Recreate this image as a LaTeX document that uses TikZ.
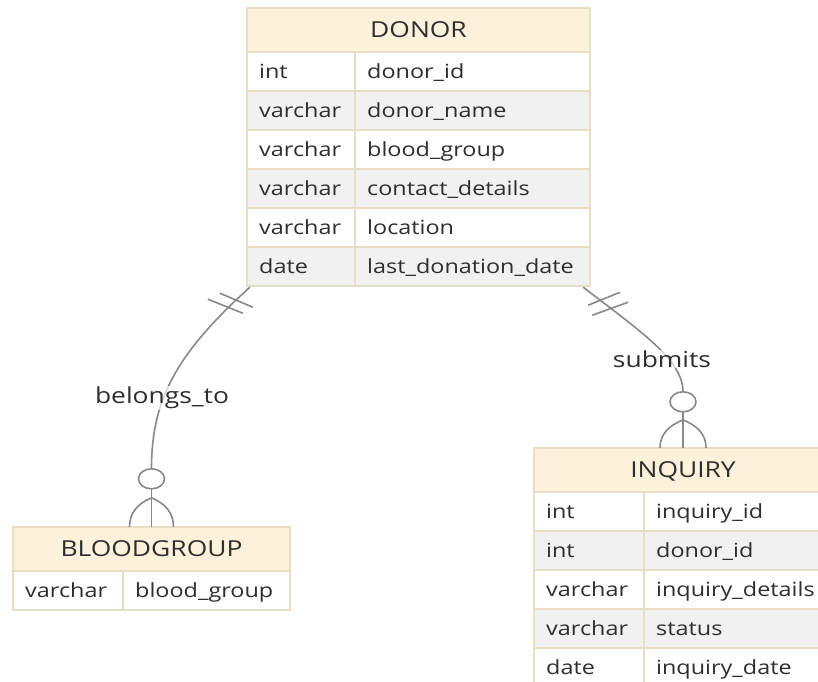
\documentclass[tikz,border=0pt]{standalone}
\usepackage{fontspec}
\setmainfont{Open Sans}[FakeStretch=1.2]
\usetikzlibrary{calc,fit}

\definecolor{hdrfill}{HTML}{FCF1DB}
\definecolor{ebord}{HTML}{E8DEC3}
\definecolor{rowgray}{HTML}{F1F1F1}
\definecolor{inktext}{HTML}{2E2E2E}
\definecolor{relline}{HTML}{888888}

\tikzset{
  cellbox/.style={draw=ebord, line width=1.2pt},
  cellline/.style={draw=ebord, line width=1.2pt},
  celltext/.style={anchor=base west, inner sep=0pt, text=inktext,
    font=\fontsize{19.5}{23}\selectfont},
  hdrtext/.style={anchor=base, inner sep=0pt, text=inktext,
    font=\fontsize{22}{26}\selectfont},
  rel/.style={draw=relline, line width=1.6pt},
  rellabel/.style={text=inktext, fill=white, fill opacity=0.65, text opacity=1,
    inner sep=1pt, font=\fontsize{22}{26}\selectfont},
}

% one attribute row: x0, divider, x1, top, fill, type, field, name
\newcommand\entrow[8]{%
  \path[cellbox, fill=#5] (#1,#4) rectangle (#3,#4+39);
  \draw[cellline] (#2,#4) -- (#2,#4+39);
  \node[celltext] (#8t) at (#1+12,#4+26) {#6};
  \node[celltext] (#8f) at (#2+12,#4+26) {#7};
}
% table title bar: x0, x1, top, title, name
\newcommand\enthead[5]{%
  \path[cellbox, fill=hdrfill] (#1,#3) rectangle (#2,#3+44);
  \node[hdrtext] (#5) at ({(#1+#2)/2},#3+29.5) {#4};
}

\begin{document}
\begin{tikzpicture}[x=1pt, y=-1pt]
  \useasboundingbox (0,0) rectangle (818,681);
  \clip (0,0) rectangle (818,681);

  % DONOR
  \enthead{247}{590}{8}{DONOR}{donorh}
  \entrow{247}{355}{590}{52}{white}{int}{donor\_id}{d1}
  \entrow{247}{355}{590}{91}{rowgray}{varchar}{donor\_name}{d2}
  \entrow{247}{355}{590}{130}{white}{varchar}{blood\_group}{d3}
  \entrow{247}{355}{590}{169}{rowgray}{varchar}{contact\_details}{d4}
  \entrow{247}{355}{590}{208}{white}{varchar}{location}{d5}
  \entrow{247}{355}{590}{247}{rowgray}{date}{last\_donation\_date}{d6}
  \coordinate (donorNW) at (247,8);
  \coordinate (donorSE) at (590,286);
  \node[fit=(donorNW)(donorSE), inner sep=0pt] (donor) {};

  % BLOODGROUP
  \enthead{13}{290}{527}{BLOODGROUP}{bgh}
  \entrow{13}{123}{290}{571}{white}{varchar}{blood\_group}{b1}
  \coordinate (bgNW) at (13,527);
  \coordinate (bgSE) at (290,610);
  \node[fit=(bgNW)(bgSE), inner sep=0pt] (bloodgroup) {};

  % INQUIRY
  \enthead{534}{832}{448}{INQUIRY}{inqh}
  \entrow{534}{644}{832}{492}{white}{int}{inquiry\_id}{i1}
  \entrow{534}{644}{832}{531}{rowgray}{int}{donor\_id}{i2}
  \entrow{534}{644}{832}{570}{white}{varchar}{inquiry\_details}{i3}
  \entrow{534}{644}{832}{609}{rowgray}{varchar}{status}{i4}
  \entrow{534}{644}{832}{648}{white}{date}{inquiry\_date}{i5}
  \coordinate (inqNW) at (534,448);
  \coordinate (inqSE) at (832,687);
  \node[fit=(inqNW)(inqSE), inner sep=0pt] (inquiry) {};

  % DONOR -- BLOODGROUP (one to zero-or-many)
  \coordinate (ls) at ($(donor.south west)+(3,1)$);
  \coordinate (lo) at ($(bloodgroup.north)+(0,-48)$);
  \draw[rel] (ls) .. controls +(-75,68) and +(0,-68) .. ($(lo)+(0,-10)$);
  \draw[rel] ($(ls)+(-30,6)$) -- ($(ls)+(3,20)$);
  \draw[rel] ($(ls)+(-42,12)$) -- ($(ls)+(-7,26)$);
  \draw[rel] (lo) ellipse [x radius=13, y radius=10];
  \draw[rel] ($(lo)+(0,10)$) -- (bloodgroup.north);
  \draw[rel] ($(lo)+(0,19)$) .. controls +(-14,6) and +(0,-14) .. ($(bloodgroup.north)+(-22,0)$);
  \draw[rel] ($(lo)+(0,19)$) .. controls +(14,6) and +(0,-14) .. ($(bloodgroup.north)+(22,0)$);
  \node[rellabel] (lbl1) at (162,398) {belongs\_to};

  % DONOR -- INQUIRY (one to zero-or-many)
  \coordinate (rs) at ($(donor.south east)+(-7,1)$);
  \coordinate (ro) at ($(inquiry.north)+(0,-46)$);
  \draw[rel] (rs) .. controls +(57,44) and +(0,-32) .. ($(ro)+(0,-10)$);
  \draw[rel] ($(rs)+(5,18)$) -- ($(rs)+(37,5)$);
  \draw[rel] ($(rs)+(9,28)$) -- ($(rs)+(45,15)$);
  \draw[rel] (ro) ellipse [x radius=13, y radius=10];
  \draw[rel] ($(ro)+(0,10)$) -- (inquiry.north);
  \draw[rel] ($(ro)+(0,18)$) .. controls +(-14,6) and +(0,-14) .. ($(inquiry.north)+(-23,0)$);
  \draw[rel] ($(ro)+(0,18)$) .. controls +(14,6) and +(0,-14) .. ($(inquiry.north)+(23,0)$);
  \node[rellabel] (lbl2) at (662,359) {submits};
\end{tikzpicture}
\end{document}
